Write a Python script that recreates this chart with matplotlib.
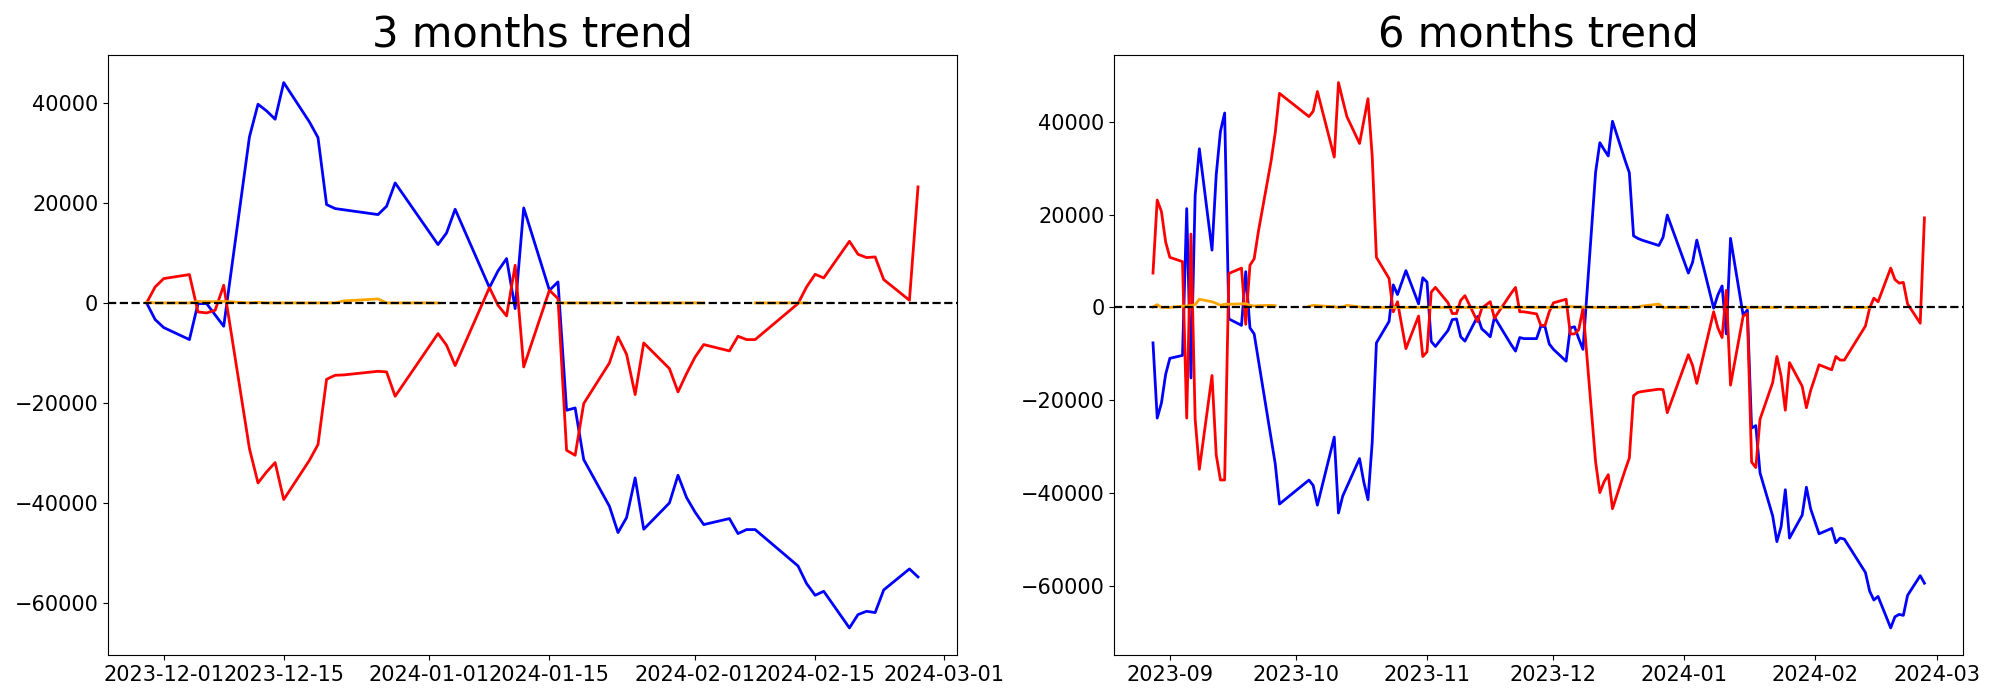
import numpy as np
import pandas as pd
import matplotlib
matplotlib.use("Agg")
import matplotlib.pyplot as plt

nan = np.nan

# KRX market holidays inside the plotted window
krx_holidays = ["2023-09-28", "2023-09-29", "2023-10-02", "2023-10-03", "2023-10-09",
                "2023-12-25", "2023-12-29", "2024-01-01", "2024-02-09", "2024-02-12"]

dates_3m = pd.bdate_range("2023-11-29", "2024-02-27", freq="C", holidays=krx_holidays)
dates_6m = pd.bdate_range("2023-08-28", "2024-02-27", freq="C", holidays=krx_holidays)

# ---- 3 months (cumulative net buying) ----
blue_3m = [0, -3330,
           -4930, -7330, -130, -130, -2400, -4670, 33200, 39740, 38400, 36740, 44070,
           36200, 33070, 19670, 18870, 18630, 17670, 19330, 24000,
           11670, 14000, 18740, 14820, 3070, 6400, 8870, -1130, 19000, 2530, 4200,
           -21470, -21000, -31330, -40670, -45930, -42930, -35000, -45270, -40000,
           -34470, -38930,
           -41870, -44330, -43130, -46130, -45330, -45330, -52600, -56130, -58470,
           -57670, -65000, -62330, -61670, -61930, -57400, -53200, -54800]
red_3m = [0, 3200,
          4870, 5670, -1800, -2000, -1470, 3530, -29130, -36000, -33800, -31930, -39330,
          -31470, -28330, -15270, -14470, -14400, -13670, -13800, -18670,
          -6130, -8470, -12530, -8630, 3070, -470, -2600, 7530, -12800, 2530, 870,
          -29470, -30470, -20130, -12000, -6800, -10270, -18330, -8000, -13130,
          -17800, -14130,
          -10800, -8330, -9600, -6670, -7330, -7330, -130, 3200, 5730, 5000, 12330,
          9730, 9070, 9200, 4670, 530, 23200]
orange_3m = [100, 0,
             0, 0, 300, 250, 250, 300, 0, 100, 0, 0, 0, 0, 0, 0, 0, 400, 800, 0, 0,
             0, nan, nan, nan, nan, nan, nan, nan, nan, nan, 0, 0, 0, 0, 0, 0, nan,
             0, 0, 0, 0, 0,
             0, 0, nan, nan, nan, 0, 0, 0, nan, nan, nan, nan, nan, nan, nan, nan, nan]

# ---- 6 months ----
blue_6m = [-7630, -23820, -20590, -14420,
           -10950, -10330, 21280, -15190, 24130, 34160, 12340, 28570, 37910, 41870,
           -2470, -3850, 7710, -4390, -5700, -11300, -28100, -33660, -42330,
           -37160, -38320, -42560, -27910, -44260, -40630, -38600, -32540, -37550,
           -41400, -29070, -7630, -3010, 4860, 2780, 5360, 7940, 770, 6400,
           5470, -7320, -8400, -4930, -2620, -2470, -6320, -7250, -1930, -4630, -5400,
           -6320, -2080, -6570, -8060, -9400, -6480, -6710, -6710, -4010, -4160, -7860,
           -9020, -11570, -4390, -4160, -6710, -9020, 29140, 35470, 34000, 32610, 40090,
           31640, 29000, 15420, 14880, 14500, 13340, 15110, 19890,
           7400, 9710, 14500, 10840, -150, 2700, 4630, -5700, 14880, -1700, -540,
           -25980, -25440, -35620, -44870, -50420, -47190, -39240, -49650, -44720,
           -38700, -43330,
           -46030, -48730, -47570, -50650, -49650, -49880, -57050, -61060, -62990,
           -62220, -69000, -66610, -66080, -66300, -61990, -57750, -59370]
red_6m = [7400, 23130, 20660, 14110,
          10790, 9870, -23820, 15800, -24050, -34850, -14650, -31750, -37150, -37150,
          7320, 8480, -3620, 9100, 10480, 16340, 31440, 37620, 46100,
          41090, 42250, 46490, 32380, 48420, 44700, 41090, 35310, 40130, 44950, 32610,
          10790, 6240, -930, 1230, -3820, -8870, -1850, -10560,
          -9560, 3310, 4320, 1000, -1310, -1310, 1540, 2540, -3080, -150, 540, 1230,
          -2310, 1750, 3100, 4320, -930, -930, -1390, -3850, -3850, -930,
          1000, 1770, -5700, -5700, -4780, -150, -33300, -39860, -37550, -36000,
          -43330, -35000, -32400, -19000, -18300, -18100, -17600, -17700, -22660,
          -10180, -12490, -16350, -12500, -930, -4390, -6480, 3700, -16730, -1850,
          -1310, -33300, -34470, -24060, -16190, -10560, -14800, -22130, -11870,
          -16960, -21590, -17890,
          -15190, -12340, -13420, -10560, -11330, -11330, -4010, -150, 2000, 1230,
          8480, 6010, 5240, 5400, 770, -3390, 19280]
orange_6m = [100, 600, 0, 0,
             0, 300, 300, 400, 600, 1770, 1230, 900, 460, 690, 690, 770, 850, 460,
             300, 380, 460, 380, nan,
             230, 460, 380, 150, 0, 100, 460, 100, 0, 0, 0, 0, 0, 0, 0, 0, 0, 0, 0,
             0, 0, 0, 0, 0, 0, 0, 0, 0, 0, 0, 0, 0, 0, 0, 0, 0, 0, 0, 0, 0, 0,
             0, 100, 200, 100, 100, 100, 0, 0, 0, 0, 0, 0, 0, 0, 0, 300, 730, 0, 0,
             0, nan, nan, nan, nan, nan, nan, nan, nan, nan, 0, 0, 0, 0, 0, 0, nan,
             0, 0, 0, 0, 0,
             0, 0, nan, nan, nan, 0, 0, 0, nan, nan, nan, nan, nan, nan, nan, nan, nan]

panels = [("3 months trend", dates_3m, blue_3m, red_3m, orange_3m),
          ("6 months trend", dates_6m, blue_6m, red_6m, orange_6m)]

fig, axes = plt.subplots(1, 2, figsize=(20, 7))
fig.subplots_adjust(left=0.054, right=0.9815, bottom=0.064, top=0.921, wspace=0.186)

for ax, (title, dates, blue, red, orange) in zip(axes, panels):
    ax.plot(dates, blue, color="blue", linewidth=2)
    ax.plot(dates, red, color="red", linewidth=2)
    ax.plot(dates, orange, color="orange", linewidth=2)
    ax.axhline(0, color="black", linestyle="--", linewidth=1.6)
    ax.set_title(title, fontsize=30)
    ax.tick_params(labelsize=15)

fig.savefig("out.png", dpi=100)
